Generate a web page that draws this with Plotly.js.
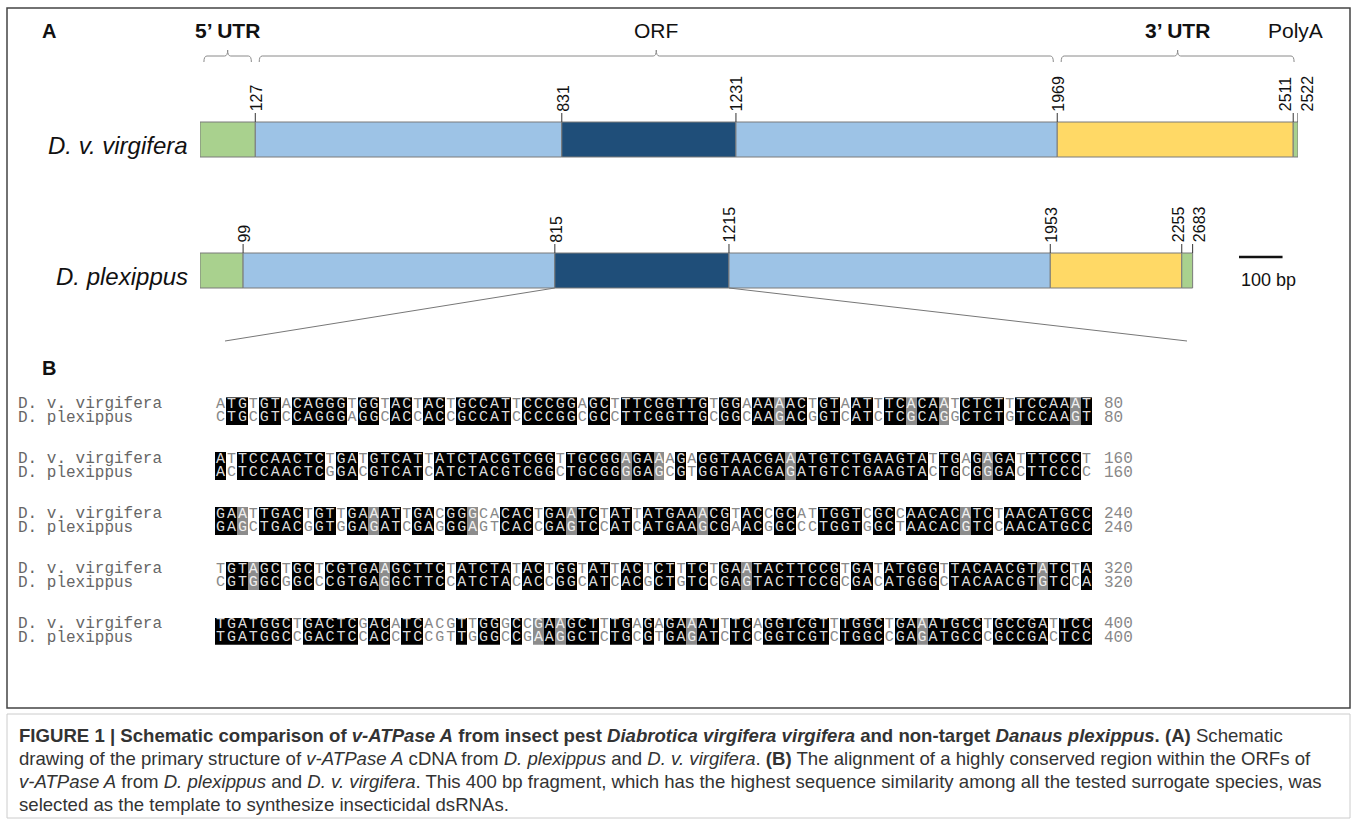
<!DOCTYPE html>
<html><head><meta charset="utf-8">
<script src="https://cdn.plot.ly/plotly-3.0.1.min.js"></script>
<style>html,body{margin:0;padding:0;background:#fff}#chart{width:1357px;height:823px}</style>
</head><body><div id="chart"></div>
<script>
// ================= DATA =================
const speciesNames = ['D. v. virgifera', 'D. plexippus'];
const virBounds  = [0, 127, 831, 1231, 1969, 2511, 2522];
const plexBounds = [0, 99, 815, 1215, 1953, 2255, 2683];
const segmentTypes = ['utr5', 'orf', 'target', 'orf', 'utr3', 'polyA'];
const regionLabels = ["5\u2019 UTR", 'ORF', "3\u2019 UTR", 'PolyA'];
const regionRanges = [[0, 127], [127, 1969], [1969, 2522], [2511, 2522]];
const regionBold = [true, false, true, false];
const regionBracket = [true, true, true, false];
const targetRegion = [815, 1215];
const scaleBarBp = 100;
const scaleBarLabel = '100 bp';

const virSeq = [
  'ATGTGTACAGGGTGGTACTACTGCCATTCCCGGAGCTTTCGGTTGTGGAAAAACTGTAATTTCACAATCTCTTTCCAAAT',
  'ATTCCAACTCTGATGTCATTATCTACGTCGGTTGCGGAGAAAGAGGTAACGAAATGTCTGAAGTATTGAGAGATTTCCCT',
  'GAATTGACTGTTGAAATTGACGGGCACACTGAATCTATTATGAAACGTACCGCATTGGTCGCCAACACATCTAACATGCC',
  'TGTAGCTGCTCGTGAAGCTTCTATCTATACTGGTATTACTCTTTCTGAATACTTCCGTGATATGGGTTACAACGTATCTA',
  'TGATGGCTGACTCGACATCACGTTGGGCCGAAGCTTTGAGAGAAATTTCAGGTCGTTTGGCTGAAATGCCTGCCGATTCC'
];
const plexSeq = [
  'CTGCGTCCAGGGAGGCACCACCGCCATCCCCGGCGCCTTCGGTTGCGGCAAGACGGTCATCTCGCAGGCTCTGTCCAAGT',
  'ACTCCAACTCGGACGTCATCATCTACGTCGGCTGCGGGGAGCGTGGTAACGAGATGTCTGAAGTACTGCGGGACTTCCCC',
  'GAGCTGACGGTGGAGATCGAGGGAGTCACCGAGTCCATCATGAAGCGAACGGCCCTGGTGGCTAACACGTCCAACATGCC',
  'CGTGGCGGCCCGTGAGGCTTCCATCTACACCGGCATCACGCTGTCCGAGTACTTCCGCGACATGGGCTACAACGTGTCCA',
  'TGATGGCCGACTCCACCTCCGTTGGGCCGAAGGCTCTGCGTGAGATCTCCGGTCGTCTGGCCGAGATGCCCGCCGACTCC'
];
const blockEnds = [80, 160, 240, 320, 400];

const captionLines = [
  '<b>FIGURE 1 | Schematic comparison of <i>v-ATPase A</i> from insect pest <i>Diabrotica virgifera virgifera</i> and non-target <i>Danaus plexippus</i>. (A)</b> Schematic',
  'drawing of the primary structure of <i>v-ATPase A</i> cDNA from <i>D. plexippus</i> and <i>D. v. virgifera</i>. <b>(B)</b> The alignment of a highly conserved region within the ORFs of',
  '<i>v-ATPase A</i> from <i>D. plexippus</i> and <i>D. v. virgifera</i>. This 400 bp fragment, which has the highest sequence similarity among all the tested surrogate species, was',
  'selected as the template to synthesize insecticidal dsRNAs.'
];

// ================= STYLE / LAYOUT =================
const W = 1357, H = 823;
const px = v => v / W;
const py = v => 1 - v / H;
const segColors = {utr5: '#a9d18e', orf: '#9dc3e6', target: '#1f4e79', utr3: '#ffd966', polyA: '#a9d18e'};
const polyAMaxDrawBp = 25;          // schematic truncation of long polyA tail
const AX0 = 200, AX1 = 1298;        // pixel extent of the bp axis
const xRangeA = [0, 2522];
const pxToBp = p => (p - AX0) / (AX1 - AX0) * (xRangeA[1] - xRangeA[0]);
const rowCenterPx = [139.5, 270.5];
const barPx = 35;
const labelShiftPx = [[0, 0, 0, 0, -9, 8], [0, 0, 0, 0, -4, 6]];
const sans = 'Liberation Sans, Arial, sans-serif';
const mono = 'Liberation Mono, Courier New, monospace';

const traces = [];
const shapes = [];
const annotations = [];

// ----- Panel A bars -----
[virBounds, plexBounds].forEach((bounds, row) => {
  const base = [], len = [], colors = [], ys = [], ends = [];
  for (let i = 0; i < segmentTypes.length; i++) {
    const s = bounds[i];
    let e = bounds[i + 1];
    if (segmentTypes[i] === 'polyA') e = Math.min(e, s + polyAMaxDrawBp);
    base.push(s); len.push(e - s); colors.push(segColors[segmentTypes[i]]); ys.push(row); ends.push(e);
  }
  traces.push({
    type: 'bar', orientation: 'h', base: base, x: len, y: ys, width: barPx / 131,
    marker: {color: colors, line: {color: '#7a7a7a', width: 1}},
    xaxis: 'x', yaxis: 'y', hoverinfo: 'skip', showlegend: false
  });
  const topPx = rowCenterPx[row] - barPx / 2;
  for (let i = 1; i < bounds.length; i++) {
    const xPos = ends[i - 1];
    shapes.push({type: 'line', xref: 'x', yref: 'paper', x0: xPos, x1: xPos,
      y0: py(topPx), y1: py(topPx - 9), line: {color: '#333', width: 1}});
    annotations.push({xref: 'x', yref: 'paper', x: xPos, y: py(topPx - 9.5),
      xanchor: 'center', yanchor: 'bottom', textangle: -90, showarrow: false, borderpad: 0,
      xshift: labelShiftPx[row][i - 1] + 1,
      text: String(bounds[i]), font: {family: sans, size: 16, color: '#111'}});
  }
  annotations.push({xref: 'paper', yref: 'paper', x: px(190), y: py(rowCenterPx[row] + 6),
    xanchor: 'right', yanchor: 'middle', showarrow: false,
    text: '<i>' + speciesNames[row] + '</i>', font: {family: sans, size: 24, color: '#111'}});
});

// ----- Region brackets and labels -----
regionRanges.forEach((r, k) => {
  const inset = 9, c = 7;
  const x0 = r[0] + inset, x1 = r[1] - inset, xm = (r[0] + r[1]) / 2;
  const yb = py(62), yh = py(56), yt = py(50);
  if (regionBracket[k]) {
    const path = `M ${x0},${yb} Q ${x0},${yh} ${x0 + c},${yh} L ${xm - c},${yh} Q ${xm},${yh} ${xm},${yt} ` +
                 `Q ${xm},${yh} ${xm + c},${yh} L ${x1 - c},${yh} Q ${x1},${yh} ${x1},${yb}`;
    shapes.push({type: 'path', xref: 'x', yref: 'paper', path: path, line: {color: '#8a8a8a', width: 1}});
  }
  annotations.push({xref: 'x', yref: 'paper', x: xm, y: py(30), xanchor: 'center', yanchor: 'middle',
    showarrow: false, text: regionBold[k] ? '<b>' + regionLabels[k] + '</b>' : regionLabels[k],
    font: {family: sans, size: 21, color: '#111'}});
});

// ----- Scale bar -----
const sbStart = pxToBp(1239);
shapes.push({type: 'line', xref: 'x', yref: 'paper', x0: sbStart, x1: sbStart + scaleBarBp,
  y0: py(257), y1: py(257), line: {color: '#111', width: 2.5}});
annotations.push({xref: 'x', yref: 'paper', x: sbStart, y: py(280), xanchor: 'left', yanchor: 'middle',
  showarrow: false, text: scaleBarLabel, font: {family: sans, size: 18, color: '#111'}});

// ----- Fan lines from target region to alignment -----
const plexBottom = rowCenterPx[1] + barPx / 2;
shapes.push({type: 'line', xref: 'x', yref: 'paper', x0: targetRegion[0], y0: py(plexBottom),
  x1: pxToBp(225), y1: py(341), line: {color: '#777', width: 1}});
shapes.push({type: 'line', xref: 'x', yref: 'paper', x0: targetRegion[1], y0: py(plexBottom),
  x1: pxToBp(1187), y1: py(341), line: {color: '#777', width: 1}});

// ----- Panel labels -----
annotations.push({xref: 'paper', yref: 'paper', x: px(40), y: py(31), xanchor: 'left', yanchor: 'middle',
  showarrow: false, text: '<b>A</b>', font: {family: sans, size: 20, color: '#111'}});
annotations.push({xref: 'paper', yref: 'paper', x: px(40), y: py(368), xanchor: 'left', yanchor: 'middle',
  showarrow: false, text: '<b>B</b>', font: {family: sans, size: 20, color: '#111'}});

// ----- Panel B alignment -----
const nRows = blockEnds.length * 4 - 2;
const z = Array.from({length: nRows}, () => Array(80).fill(null));
const tx = [], ty = [], tt = [], tc = [];
const txtCol = s => s === 2 ? '#dcdcdc' : (s === 1 ? '#f0f0f0' : '#888888');
for (let b = 0; b < blockEnds.length; b++) {
  const v = virSeq[b], p = plexSeq[b];
  for (let i = 0; i < 80; i++) {
    const a = v[i], c = p[i];
    const s = a === c ? 2 : ((a + c === 'AG' || a + c === 'GA') ? 1 : 0);
    z[4 * b][i] = s; z[4 * b + 1][i] = s;
    tx.push(i + 1, i + 1); ty.push(4 * b, 4 * b + 1); tt.push(a, c); tc.push(txtCol(s), txtCol(s));
  }
  [speciesNames[0], speciesNames[1]].forEach((nm, r) => {
    annotations.push({xref: 'paper', yref: 'y2', x: px(16), y: 4 * b + r, xanchor: 'left', yanchor: 'middle',
      showarrow: false, text: nm, font: {family: mono, size: 16, color: '#666'}});
    annotations.push({xref: 'x2', yref: 'y2', x: 80.5, xshift: 10, y: 4 * b + r, xanchor: 'left', yanchor: 'middle',
      showarrow: false, text: String(blockEnds[b]), font: {family: mono, size: 16, color: '#888'}});
  });
}
traces.push({
  type: 'heatmap', x: Array.from({length: 80}, (_, i) => i + 1), y: Array.from({length: nRows}, (_, i) => i),
  z: z, zmin: 0, zmax: 2, showscale: false, hoverinfo: 'skip',
  colorscale: [[0, '#ffffff'], [0.33, '#ffffff'], [0.33, '#8c8c8c'], [0.67, '#8c8c8c'], [0.67, '#000000'], [1, '#000000']],
  xaxis: 'x2', yaxis: 'y2'
});
traces.push({
  type: 'scatter', mode: 'text', x: tx, y: ty, text: tt,
  textfont: {family: mono, size: 15, color: tc}, textposition: 'middle center',
  xaxis: 'x2', yaxis: 'y2', hoverinfo: 'skip', showlegend: false
});

// ----- Caption -----
captionLines.forEach((ln, i) => {
  annotations.push({xref: 'paper', yref: 'paper', x: px(17), y: py(735 + i * 23), xanchor: 'left', yanchor: 'middle',
    showarrow: false, text: ln, font: {family: sans, size: 18.6, color: '#333'}});
});

// ----- Frames -----
shapes.push({type: 'rect', xref: 'paper', yref: 'paper', x0: px(7), x1: px(1350), y0: py(8), y1: py(708),
  line: {color: '#444', width: 1.5}});
shapes.push({type: 'rect', xref: 'paper', yref: 'paper', x0: px(7), x1: px(1350), y0: py(714), y1: py(818),
  line: {color: '#cccccc', width: 1}});

const hidden = {visible: false, fixedrange: true, showgrid: false, zeroline: false};
const layout = {
  width: W, height: H, margin: {l: 0, r: 0, t: 0, b: 0},
  paper_bgcolor: '#fff', plot_bgcolor: 'rgba(0,0,0,0)', showlegend: false, barmode: 'overlay',
  xaxis: Object.assign({}, hidden, {domain: [px(AX0), px(AX1)], range: xRangeA, anchor: 'y'}),
  yaxis: Object.assign({}, hidden, {domain: [py(336), py(74)], range: [1.5, -0.5], anchor: 'x'}),
  xaxis2: Object.assign({}, hidden, {domain: [px(215), px(1092)], range: [0.5, 80.5], anchor: 'y2'}),
  yaxis2: Object.assign({}, hidden, {domain: [py(404 + 17.5 * 13.75), py(404 - 0.5 * 13.75)], range: [nRows - 0.5, -0.5], anchor: 'x2'}),
  shapes: shapes, annotations: annotations
};
Plotly.newPlot('chart', traces, layout, {displayModeBar: false, staticPlot: true});
</script></body></html>
